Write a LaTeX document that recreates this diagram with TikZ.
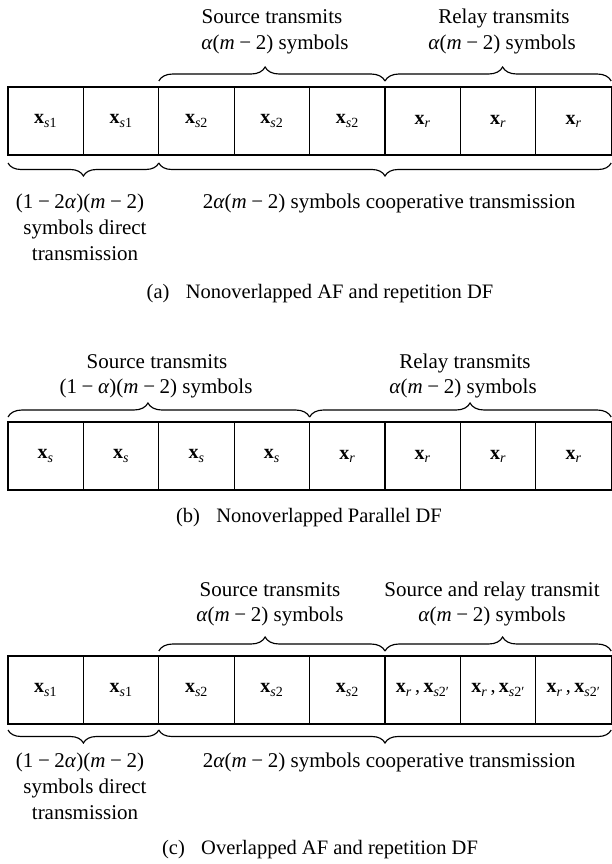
\documentclass[tikz,border=0pt]{standalone}
\usepackage{fontspec}
\setmainfont{Liberation Serif}
\usetikzlibrary{decorations.pathreplacing}
\newcommand{\txtfont}{\fontsize{21}{26}\selectfont}
\newcommand{\capfont}{\fontsize{20.5}{24}\selectfont}
\newcommand{\lblfont}{\fontsize{20}{24}\selectfont}
\newcommand{\qBx}{\textbf{x}}
\newcommand{\qxsa}{\qBx\textsubscript{\textit{s}1}}
\newcommand{\qxsb}{\qBx\textsubscript{\textit{s}2}}
\newcommand{\qxsbp}{\qBx\textsubscript{\textit{s}2′}}
\newcommand{\qxs}{\qBx\textsubscript{\textit{s}}}
\newcommand{\qxr}{\qBx\textsubscript{\textit{r}}}
\newcommand{\qxrp}{\qxr\,,\,\qxsbp}
\newcommand{\qal}{\textit{α}}
\newcommand{\qm}{\textit{m}}
\newcommand{\qminus}{\hspace{0.22em}−\hspace{0.22em}}
\begin{document}
\begin{tikzpicture}[x=1pt,y=-1pt,line width=1.15pt,
  cell/.style={draw,minimum width=75.4pt,minimum height=68pt,inner sep=0pt,outer sep=0pt,anchor=north west,font=\lblfont},
  brc/.style={decorate,decoration={brace,amplitude=14pt,aspect=#1}},
  brc/.default=0.5,
  bbrc/.style={decorate,decoration={brace,amplitude=13pt,aspect=0.5}},
  txt/.style={anchor=base,inner sep=0pt,font=\txtfont},
  captxt/.style={anchor=base,inner sep=0pt,font=\capfont}]
\useasboundingbox (0,0) rectangle (611,864);
% ---------------- panel (a)
\foreach \i/\t in {1/\qxsa,2/\qxsa,3/\qxsb,4/\qxsb,5/\qxsb,6/\qxr,7/\qxr,8/\qxr}
  \node[cell] (a\i) at ({8+(\i-1)*75.4},87) {\t};
\draw[brc=0.47] ([yshift=6pt]a3.north west) -- ([yshift=6pt]a5.north east);
\draw[brc=0.52] ([yshift=6pt]a6.north west) -- ([yshift=6pt]a8.north east);
\draw[bbrc] ([yshift=-8pt]a2.south east) -- ([yshift=-8pt]a1.south west);
\draw[bbrc] ([yshift=-8pt]a8.south east) -- ([yshift=-8pt]a3.south west);
\node[txt] (ast1) at (272,24) {Source transmits};
\node[txt] (ast2) at (275,50) {\qal(\qm\qminus 2) symbols};
\node[txt] (art1) at (504,24) {Relay transmits};
\node[txt] (art2) at (502,50) {\qal(\qm\qminus 2) symbols};
\node[txt] (ad1) at (80,208) {(1\qminus 2\qal)(\qm\qminus 2)};
\node[txt] (ad2) at (85,234) {symbols direct};
\node[txt] (ad3) at (85,260) {transmission};
\node[txt] (aco) at (389,208) {2\qal(\qm\qminus 2) symbols cooperative transmission};
\node[captxt] (acap) at (320,298) {(a)\hspace{0.8em}Nonoverlapped AF and repetition DF};
% ---------------- panel (b)
\foreach \i/\t in {1/\qxs,2/\qxs,3/\qxs,4/\qxs,5/\qxr,6/\qxr,7/\qxr,8/\qxr}
  \node[cell] (b\i) at ({8+(\i-1)*75.4},422) {\t};
\draw[brc=0.464] ([yshift=5pt]b1.north west) -- ([yshift=5pt]b4.north east);
\draw[brc=0.532] ([yshift=5pt]b5.north west) -- ([yshift=5pt]b8.north east);
\node[txt] (bst1) at (157,368) {Source transmits};
\node[txt] (bst2) at (156,393) {(1\qminus\qal)(\qm\qminus 2) symbols};
\node[txt] (brt1) at (465,368) {Relay transmits};
\node[txt] (brt2) at (463,393) {\qal(\qm\qminus 2) symbols};
\node[captxt] (bcap) at (309,522) {(b)\hspace{0.8em}Nonoverlapped Parallel DF};
% ---------------- panel (c)
\foreach \i/\t in {1/\qxsa,2/\qxsa,3/\qxsb,4/\qxsb,5/\qxsb,6/\qxrp,7/\qxrp,8/\qxrp}
  \node[cell] (c\i) at ({8+(\i-1)*75.4},656) {\t};
\draw[brc=0.47] ([yshift=5pt]c3.north west) -- ([yshift=5pt]c5.north east);
\draw[brc=0.52] ([yshift=5pt]c6.north west) -- ([yshift=5pt]c8.north east);
\draw[bbrc] ([yshift=-6pt]c2.south east) -- ([yshift=-6pt]c1.south west);
\draw[bbrc] ([yshift=-6pt]c8.south east) -- ([yshift=-6pt]c3.south west);
\node[txt] (cst1) at (270,596) {Source transmits};
\node[txt] (cst2) at (270,621) {\qal(\qm\qminus 2) symbols};
\node[txt] (crt1) at (492,596) {Source and relay transmit};
\node[txt] (crt2) at (492,621) {\qal(\qm\qminus 2) symbols};
\node[txt] (cd1) at (80,767) {(1\qminus 2\qal)(\qm\qminus 2)};
\node[txt] (cd2) at (85,793) {symbols direct};
\node[txt] (cd3) at (85,819) {transmission};
\node[txt] (cco) at (389,767) {2\qal(\qm\qminus 2) symbols cooperative transmission};
\node[captxt] (ccap) at (320,854) {(c)\hspace{0.8em}Overlapped AF and repetition DF};
\end{tikzpicture}
\end{document}
